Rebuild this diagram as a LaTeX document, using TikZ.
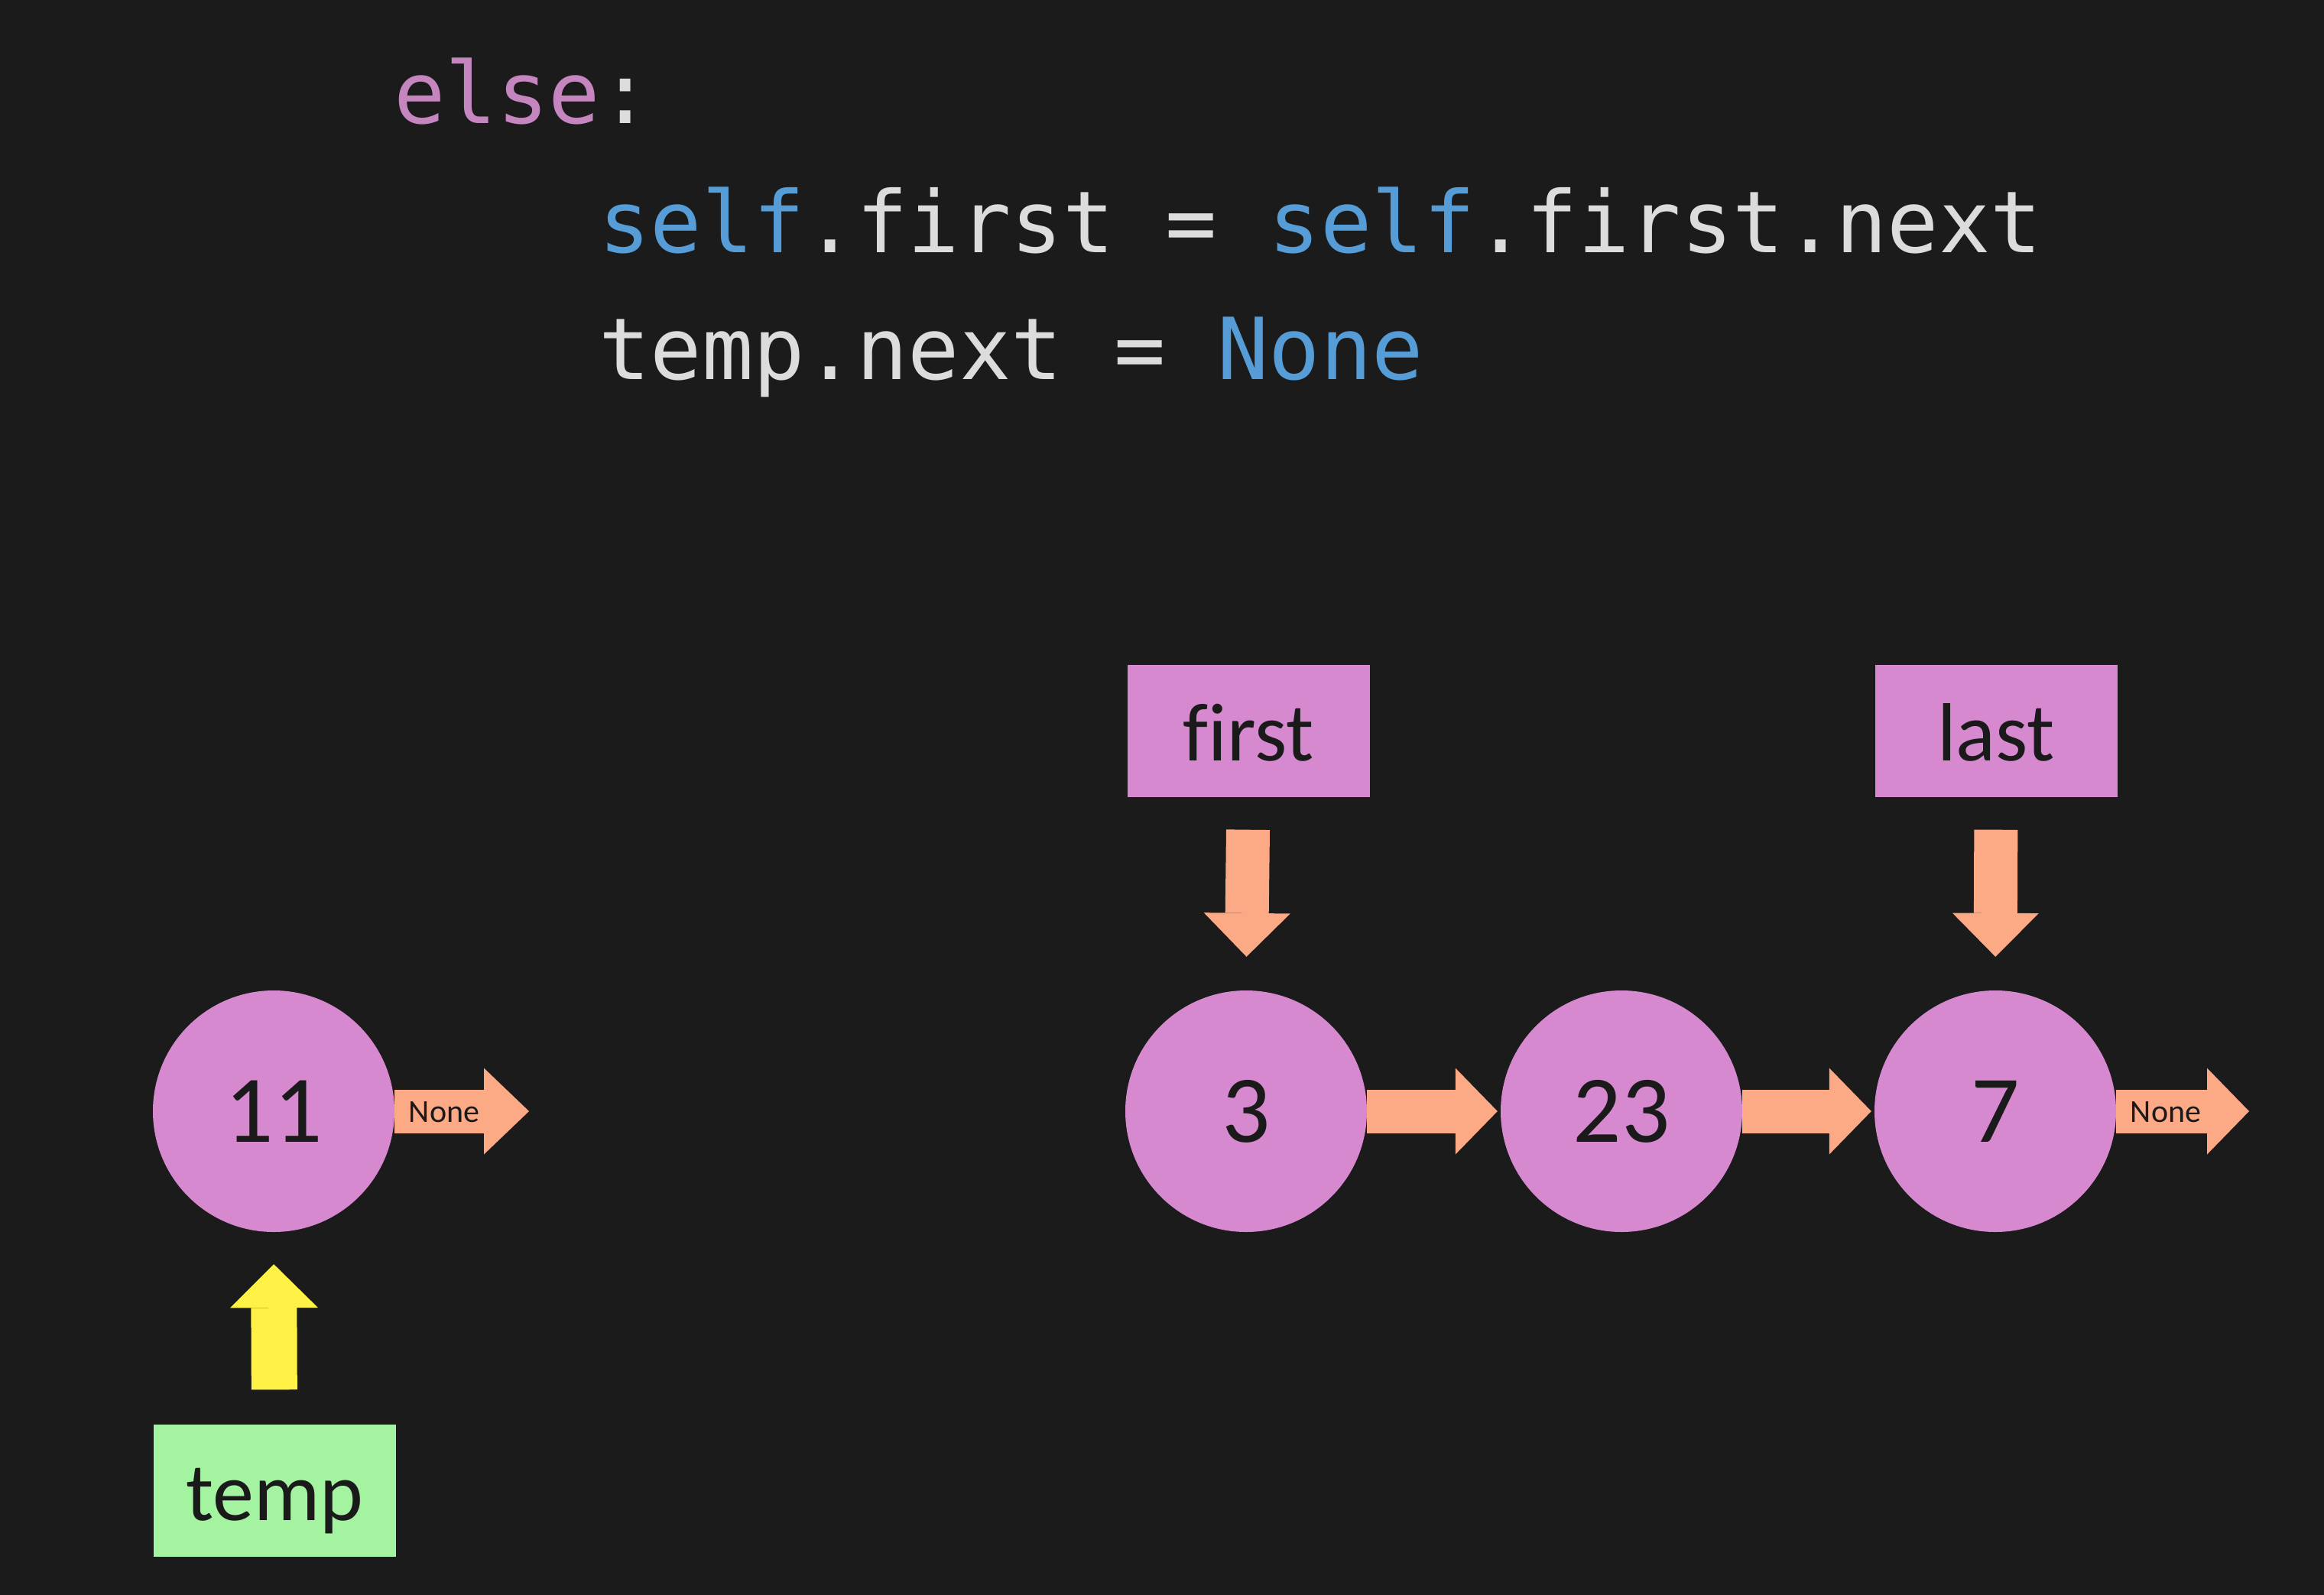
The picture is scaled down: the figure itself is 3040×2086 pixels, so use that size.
\documentclass[tikz,border=0pt]{standalone}
\usepackage{fontspec}
\setmainfont{Carlito}[Ligatures=NoCommon]
\newfontfamily\codefont{DejaVu Sans Mono}
\usetikzlibrary{arrows.meta}
\definecolor{bgc}{HTML}{1B1B1B}
\definecolor{nodec}{HTML}{D689CF}
\definecolor{arrc}{HTML}{FCA986}
\definecolor{yelc}{HTML}{FFF145}
\definecolor{grnc}{HTML}{A4F3A0}
\definecolor{codew}{HTML}{DCDCDC}
\definecolor{codeb}{HTML}{569CD6}
\definecolor{codep}{HTML}{C586C0}
\definecolor{labc}{HTML}{1A1A1A}
\tikzset{
  listnode/.style={circle, fill=nodec, draw=none, minimum size=316pt, inner sep=0pt,
    text=labc, font=\fontsize{125}{125}\selectfont},
  ptrbox/.style={rectangle, fill=nodec, draw=none, minimum width=317pt, minimum height=173pt,
    inner sep=0pt, text=labc, text height=78pt, text depth=0pt, font=\fontsize{108}{108}\selectfont},
  tempbox/.style={ptrbox, fill=grnc},
  codeline/.style={anchor=base west, inner sep=0pt, text=codew, font=\codefont\fontsize{112}{112}\selectfont},
  linkarrow/.style={draw=arrc, line width=57pt, line cap=butt,
    -{Triangle[length=55pt, width=113pt, line width=0pt]}},
  ptrarrow/.style={draw=arrc, line width=57pt, line cap=butt,
    -{Triangle[length=57pt, width=113pt, line width=0pt]}},
  temparrow/.style={draw=yelc, line width=60pt, line cap=butt,
    -{Triangle[length=57pt, width=115pt, line width=0pt]}},
  nonelabel/.style={inner sep=0pt, text=labc, font=\fontsize{42}{42}\selectfont}
}
\begin{document}
\begin{tikzpicture}[x=1pt, y=-1pt]
  \useasboundingbox (0,0) rectangle (3040,2086);
  \fill[bgc] (-20,-20) rectangle (3060,2106);

  % code
  \node[codeline] (c1) at (515,161) {\color{codep}else\color{codew}:};
  \node[codeline] (c2) at (783,330) {\color{codeb}self\color{codew}.first = \color{codeb}self\color{codew}.first.next};
  \node[codeline] (c3) at (783,496) {temp.next = \color{codeb}None};

  % detached node
  \node[listnode] (n11) at (358,1454) {11};
  \coordinate (none11) at (692,1454);
  \draw[linkarrow, -{Triangle[length=59pt, width=113pt, line width=0pt]}] (n11.east) -- (none11);
  \node[nonelabel] (l11) at (581,1455) {None};

  \node[tempbox] (temp) at (359,1950) {temp};
  \draw[temparrow, shorten <=45pt, shorten >=42pt] (temp.north) -- (n11.south);

  % list
  \node[listnode] (n3) at (1630,1454) {3};
  \node[listnode] (n23) at (2121,1454) {23};
  \node[listnode] (n7) at (2610,1454) {7};
  \coordinate (none7) at (2942,1454);

  \draw[linkarrow, shorten >=4pt] (n3.east) -- (n23.west);
  \draw[linkarrow, shorten >=4pt] (n23.east) -- (n7.west);
  \draw[linkarrow] (n7.east) -- (none7);
  \node[nonelabel] (l7) at (2833,1455) {None};

  \node[ptrbox] (first) at (1633,956) {first};
  \node[ptrbox] (last) at (2611,956) {last};
  \draw[ptrarrow, shorten <=43pt, shorten >=44pt] (first.south) -- (n3.north);
  \draw[ptrarrow, shorten <=43pt, shorten >=44pt] (last.south) -- (n7.north);
\end{tikzpicture}
\end{document}
